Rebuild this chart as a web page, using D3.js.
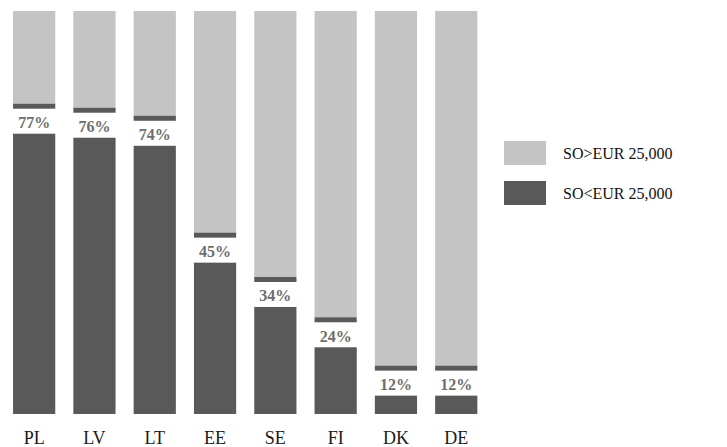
<!DOCTYPE html>
<html>
<head>
<meta charset="utf-8">
<script src="https://cdn.jsdelivr.net/npm/d3@7"></script>
<style>
  html, body { margin: 0; padding: 0; background: #fff; }
  svg { display: block; }
</style>
</head>
<body>
<svg id="chart" width="727" height="447"></svg>
<script>
// Share of small operators (below EUR 25,000) per country, in percent
const countries = ["PL", "LV", "LT", "EE", "SE", "FI", "DK", "DE"];
const belowShare = [77, 76, 74, 45, 34, 24, 12, 12];
const seriesNames = ["SO>EUR 25,000", "SO<EUR 25,000"];
const seriesColors = ["#c4c4c4", "#595959"];

const svg = d3.select("#chart");
const fontFamily = "'Liberation Serif', 'Times New Roman', serif";

const x = d3.scaleBand()
  .domain(countries)
  .range([4, 486.4])
  .paddingInner(0.3)
  .paddingOuter(0.15);

const y = d3.scaleLinear()
  .domain([0, 100])
  .range([414, 11]);

const rows = countries.map((c, i) => ({ country: c, below: belowShare[i] }));

const g = svg.append("g");

// Upper part: remainder above 100%
g.selectAll("rect.above")
  .data(rows)
  .join("rect")
  .attr("class", "above")
  .attr("x", d => x(d.country))
  .attr("width", x.bandwidth())
  .attr("y", y(100))
  .attr("height", d => y(d.below) - y(100))
  .attr("fill", seriesColors[0]);

// Lower part: share below EUR 25,000
g.selectAll("rect.below")
  .data(rows)
  .join("rect")
  .attr("class", "below")
  .attr("x", d => x(d.country))
  .attr("width", x.bandwidth())
  .attr("y", d => y(d.below))
  .attr("height", d => y(0) - y(d.below))
  .attr("fill", seriesColors[1]);

// Value labels on a white plate just under the top of the dark segment
const labelGap = 5, plateH = 25;
g.selectAll("rect.plate")
  .data(rows)
  .join("rect")
  .attr("class", "plate")
  .attr("x", d => x(d.country) - 1)
  .attr("width", x.bandwidth() + 2)
  .attr("y", d => y(d.below) + labelGap)
  .attr("height", plateH)
  .attr("fill", "#fff");

g.selectAll("text.value")
  .data(rows)
  .join("text")
  .attr("class", "value")
  .attr("x", d => x(d.country) + x.bandwidth() / 2)
  .attr("y", d => y(d.below) + labelGap + 19.5)
  .attr("text-anchor", "middle")
  .attr("font-family", fontFamily)
  .attr("font-weight", "bold")
  .attr("font-size", 16)
  .attr("fill", "#6e6e6e")
  .text(d => d.below + "%");

// Category axis
const xAxis = svg.append("g")
  .attr("transform", `translate(0, ${y(0)})`)
  .call(d3.axisBottom(x).tickSize(0).tickPadding(17));
xAxis.select(".domain").remove();
xAxis.selectAll("text")
  .attr("font-family", fontFamily)
  .attr("font-size", 18)
  .attr("fill", "#1a1a1a")
  .attr("dy", "0.71em");

// Legend
const legend = svg.append("g").attr("transform", "translate(504, 141)");
const items = legend.selectAll("g")
  .data(seriesNames)
  .join("g")
  .attr("transform", (d, i) => `translate(0, ${i * 40})`);
items.append("rect")
  .attr("width", 42)
  .attr("height", 24)
  .attr("fill", (d, i) => seriesColors[i]);
items.append("text")
  .attr("x", 59)
  .attr("y", 18)
  .attr("font-family", fontFamily)
  .attr("font-size", 16)
  .attr("fill", "#111")
  .text(d => d);
</script>
</body>
</html>
